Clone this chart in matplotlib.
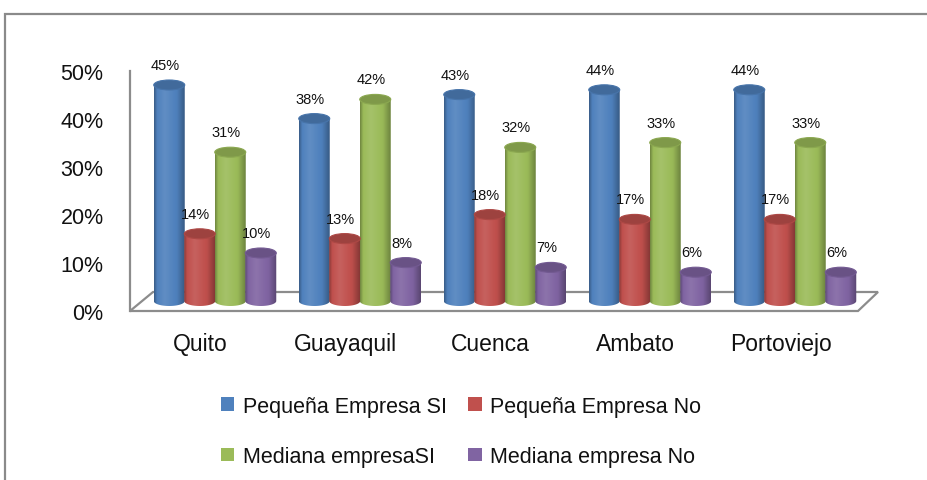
import matplotlib
matplotlib.use('Agg')
import matplotlib.pyplot as plt
import numpy as np
from matplotlib.patches import Ellipse, Patch, Rectangle, Polygon
from matplotlib.path import Path
from matplotlib.colors import to_rgb

plt.rcParams['font.family'] = ['Liberation Sans', 'DejaVu Sans']

# ------------------------------------------------------------------ #
#  data
# ------------------------------------------------------------------ #
ciudades = ['Quito', 'Guayaquil', 'Cuenca', 'Ambato', 'Portoviejo']
series = ['Pequeña Empresa SI', 'Pequeña Empresa No',
          'Mediana empresaSI', 'Mediana empresa No']
peq_si = [45, 38, 43, 44, 44]
peq_no = [14, 13, 18, 17, 17]
med_si = [31, 42, 32, 33, 33]
med_no = [10, 8, 7, 6, 6]
yticks = [0, 10, 20, 30, 40, 50]

COLS = ['#4F81BD', '#C0504D', '#9BBB59', '#8064A2']

W, H = 928, 481
fig = plt.figure(figsize=(W / 100, H / 100), dpi=100)

# axes covers the plotting wall: px 130..878 horizontally, 72..312 vertically
ax = fig.add_axes([130 / W, (H - 312) / H, (878 - 130) / W, 240 / H])
gc0, gstep = 215, 145  # group centre / spacing in px
ax.set_xlim((130 - gc0) / gstep, (878 - gc0) / gstep)
ax.set_ylim(0, 50)
for s in ax.spines.values():
    s.set_visible(False)

pxx = 1.0 / gstep          # one px in x data
pxy = 50.0 / 240           # one px in y data

# floor (parallelogram) and left wall line
floor_front, floor_back = 0, 19 * pxy
x_fl = ax.get_xlim()[0]
x_fr = x_fl + (858 - 130) * pxx
dx = 23 * pxx
ax.add_patch(Polygon([(x_fl, floor_front), (x_fl + dx, floor_back),
                      (x_fr + 20 * pxx, floor_back), (x_fr, floor_front)],
                     closed=True, facecolor='white', edgecolor='#8c8c8c',
                     lw=1.6, zorder=1, clip_on=False))
ax.plot([x_fl, x_fl], [0, 50], color='#8c8c8c', lw=1.6, zorder=1,
        clip_on=False)

# ------------------------------------------------------------------ #
#  cylinders
# ------------------------------------------------------------------ #
values = [peq_si, peq_no, med_si, med_no]
bw = 31 * pxx
eh = 10 * pxy
base = 10 * pxy
offsets = np.array([-1.5, -0.5, 0.5, 1.5]) * 30.5 * pxx

t = np.linspace(0, 1, 64)
shade = np.interp(t, [0, 0.1, 0.35, 0.75, 1], [-0.28, 0.0, 0.1, -0.02, -0.3])


def shaded(col):
    c = np.array(to_rgb(col))
    out = np.empty((1, len(t), 3))
    for k, s in enumerate(shade):
        out[0, k] = c + (1 - c) * s if s > 0 else c * (1 + s)
    return out


ang_b = np.linspace(np.pi, 2 * np.pi, 40)
for j, vals in enumerate(values):
    img = shaded(COLS[j])
    for i, v in enumerate(vals):
        xc = i + offsets[j]
        x0, x1 = xc - bw / 2, xc + bw / 2
        top = base + v
        verts = [(xc + bw / 2 * np.cos(a), base + eh / 2 * np.sin(a))
                 for a in ang_b]
        verts += [(x1, top), (x0, top), verts[0]]
        body = Path(verts, closed=True)
        im = ax.imshow(img, extent=(x0, x1, base - eh, top), aspect='auto',
                       interpolation='bilinear', zorder=3)
        im.set_clip_path(body, transform=ax.transData)
        ctop = np.array(to_rgb(COLS[j])) * 0.82
        ax.add_patch(Ellipse((xc, top), bw, eh, facecolor=ctop,
                             edgecolor=np.array(to_rgb(COLS[j])) * 0.9,
                             lw=0.8, zorder=4))
        ax.annotate('%d%%' % v, (xc - 4 * pxx, top + eh / 2),
                    xytext=(0, 8), textcoords='offset pixels',
                    ha='center', va='bottom', fontsize=10.5, color='#111111',
                    zorder=5)

# ------------------------------------------------------------------ #
#  ticks
# ------------------------------------------------------------------ #
ax.set_yticks(yticks)
ax.set_yticklabels(['%d%%' % y for y in yticks], fontsize=15.5,
                   color='#111111')
ax.set_xticks(np.arange(len(ciudades)) - 0.1)
ax.set_xticklabels(ciudades, fontsize=16.5, color='#111111')
ax.tick_params(axis='y', length=0, pad=19)
ax.tick_params(axis='x', length=0, pad=15)

# ------------------------------------------------------------------ #
#  legend
# ------------------------------------------------------------------ #
handles = [Patch(facecolor=c, edgecolor='none') for c in COLS]
order = [0, 2, 1, 3]
leg = fig.legend([handles[k] for k in order], [series[k] for k in order],
                 ncol=2, loc='upper left',
                 bbox_to_anchor=(221 / W, 1 - 397 / H),
                 frameon=False, fontsize=15.5, handlelength=0.62,
                 handleheight=0.62, handletextpad=0.4, columnspacing=1.0,
                 labelspacing=1.35, borderpad=0, borderaxespad=0)
for txt in leg.get_texts():
    txt.set_color('#111111')

# outer frame
fig.patches.append(Rectangle((5 / W, -0.2), 1.2, 1.2 - 15 / H,
                             transform=fig.transFigure, fill=False,
                             edgecolor='#8a8a8a', lw=1.6))

fig.savefig('out.png', dpi=100)
